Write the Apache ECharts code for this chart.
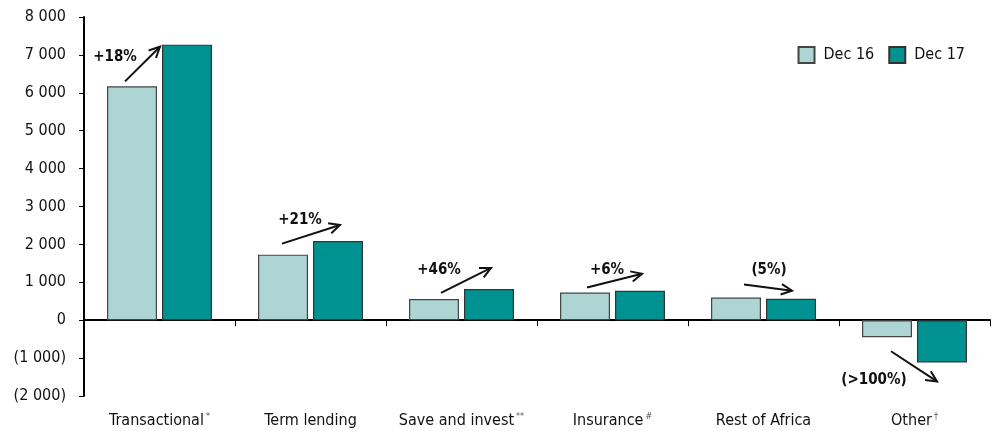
<!DOCTYPE html>
<html><head><meta charset="utf-8">
<script src="https://cdn.jsdelivr.net/npm/echarts@6/dist/echarts.min.js"></script>
<style>html,body{margin:0;padding:0;background:#fff}#c{width:992px;height:431px}</style>
</head><body><div id="c"></div>
<script>
var categories = ['Transactional', 'Term lending', 'Save and invest', 'Insurance', 'Rest of Africa', 'Other'];
var superscripts = ['*', '', '**', '#', '', '†'];
var dec16 = [6170, 1730, 560, 730, 600, -450];
var dec17 = [7270, 2090, 825, 775, 565, -1115];
var changeLabels = ['+18%', '+21%', '+46%', '+6%', '(5%)', '(>100%)'];
var yTicks = {min: -2000, max: 8000, interval: 1000};

// annotation layout (pixel offsets relative to bar ends): [sx, sy, ex, ey, lx, ly]
var annoLayout = [
  [-7, -5, -27, 2, -10, -24],
  [-1, -11, 2, -16, 18, -24],
  [7, -6, 2, -21, -2, -23],
  [2, -5, 2, -17, 20, -17],
  [8, -13, 1, -8, 25, -14],
  [4, 14, -5, 19, -17, 29]
];

var FONT = '"Liberation Sans Narrow", "DejaVu Sans Condensed", "Liberation Sans", sans-serif';
var C16 = '#acd5d4', C17 = '#009191';

function fmt(v) {
  var a = Math.abs(v);
  var s = String(a).replace(/\B(?=(\d{3})+(?!\d))/g, ' ');
  return v < 0 ? '(' + s + ')' : s;
}

var chart = echarts.init(document.getElementById('c'));
var annoData = categories.map(function (c, i) { return [i, dec16[i], dec17[i]]; });

function arrowItem(params, api) {
  var i = api.value(0);
  var v16 = api.value(1), v17 = api.value(2);
  var bw = api.size([1, 0])[0];
  var barW = bw * 0.331;
  var half = barW * 0.55;
  var c16 = api.coord([i, v16]);
  var c17 = api.coord([i, v17]);
  var L = annoLayout[i];
  var sx = c16[0] - half + L[0], sy = c16[1] + L[1];
  var ex = c17[0] + half + L[2], ey = c17[1] + L[3];
  var ang = Math.atan2(ey - sy, ex - sx);
  var hl = 12, ha = 0.45;
  var h1 = [ex - hl * Math.cos(ang - ha), ey - hl * Math.sin(ang - ha)];
  var h2 = [ex - hl * Math.cos(ang + ha), ey - hl * Math.sin(ang + ha)];
  return {
    type: 'group',
    children: [
      {type: 'line', shape: {x1: sx, y1: sy, x2: ex, y2: ey}, style: {stroke: '#111', lineWidth: 2}},
      {type: 'polyline', shape: {points: [h1, [ex, ey], h2]}, style: {stroke: '#111', lineWidth: 2, fill: null}},
      {type: 'text', x: sx + L[4], y: sy + L[5], style: {text: changeLabels[i], font: 'bold 15px ' + FONT, fill: '#111', align: 'center', verticalAlign: 'middle'}}
    ]
  };
}

chart.setOption({
  animation: false,
  grid: {left: 84, right: 2, top: 17, bottom: 35, containLabel: false},
  legend: {
    right: 22, top: 41, itemWidth: 16, itemHeight: 16, itemGap: 14, icon: 'rect',
    textStyle: {fontFamily: FONT, fontSize: 16, color: '#111', padding: [0, 0, 0, 4]},
    data: ['Dec 16', 'Dec 17']
  },
  xAxis: [{
    type: 'category', data: categories, position: 'bottom',
    axisLine: {onZero: true, lineStyle: {color: '#000', width: 2}},
    axisTick: {show: true, length: 6, lineStyle: {color: '#000', width: 1}},
    axisLabel: {show: false}
  }, {
    type: 'category', data: categories, position: 'bottom',
    axisLine: {show: false, onZero: false}, axisTick: {show: false},
    axisLabel: {
      margin: 16, interval: 0,
      formatter: function (v, i) { return '{a|' + v + '}' + (superscripts[i] ? '{s|' + superscripts[i] + '}' : ''); },
      rich: {
        a: {fontFamily: FONT, fontSize: 16, color: '#111', lineHeight: 18},
        s: {fontFamily: FONT, fontSize: 9, color: '#555', verticalAlign: 'top', lineHeight: 18, padding: [0, 0, 0, 2]}
      }
    }
  }],
  yAxis: {
    type: 'value', min: yTicks.min, max: yTicks.max, interval: yTicks.interval,
    axisLine: {show: true, lineStyle: {color: '#000', width: 2}},
    axisTick: {show: true, length: 5, lineStyle: {color: '#000', width: 1}},
    splitLine: {show: false},
    axisLabel: {formatter: fmt, fontFamily: FONT, fontSize: 16, color: '#111', margin: 18}
  },
  series: [
    {name: 'Dec 16', type: 'bar', data: dec16, barWidth: '33.1%', barGap: '10%',
      itemStyle: {color: C16, borderColor: '#444', borderWidth: 1.2}},
    {name: 'Dec 17', type: 'bar', data: dec17, barWidth: '33.1%', barGap: '10%',
      itemStyle: {color: C17, borderColor: '#333', borderWidth: 1.2}},
    {type: 'custom', renderItem: arrowItem, data: annoData, z: 5, silent: true,
      encode: {x: 0, y: [1, 2]}}
  ]
});
</script></body></html>
